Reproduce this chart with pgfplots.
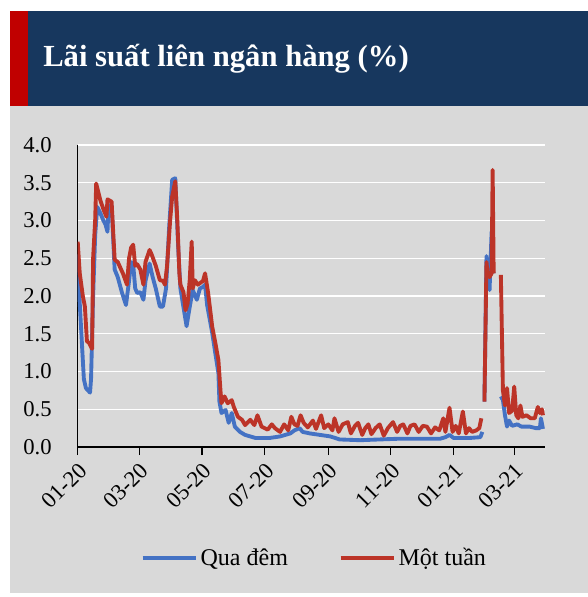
\documentclass[border=0pt]{standalone}
\usepackage{pgfplots}
\pgfplotsset{compat=1.18}
\usepackage{fontspec}
\setmainfont{Liberation Serif}
\definecolor{navy}{RGB}{23,55,94}
\definecolor{barred}{RGB}{192,0,0}
\definecolor{bg}{RGB}{217,217,217}
\definecolor{sblue}{RGB}{68,114,196}
\definecolor{sred}{RGB}{188,52,40}
\begin{document}
\begin{tikzpicture}[x=0.75pt,y=0.75pt]
\fill[white] (0,0) rectangle (588,597);
\fill[bg] (10,4) rectangle (588,491);
\fill[navy] (10,491) rectangle (588,586);
\fill[barred] (10,491) rectangle (28,586);
\node[anchor=base west,text=white,font=\fontsize{23pt}{26pt}\selectfont\bfseries,inner sep=0pt] at (43,530) {Lãi suất liên ngân hàng (\%)};
\begin{axis}[
  at={(58.275pt,112.5pt)}, anchor=origin,
  scale only axis, width=350.5pt, height=226.5pt,
  xmin=0, xmax=455, ymin=0, ymax=4,
  axis lines*=left,
  axis line style={black, line width=0.8pt},
  xtick={0,60,121,182,244,305,366,425},
  xticklabels={01-20,03-20,05-20,07-20,09-20,11-20,01-21,03-21},
  ytick={0,0.5,...,4},
  yticklabel style={/pgf/number format/fixed,/pgf/number format/fixed zerofill,/pgf/number format/precision=1, xshift=-10pt},
  /pgf/number format/assume math mode=true,
  tick align=outside,
  major tick length=6pt,
  xtick style={black, line width=0.8pt},
  ytick style={draw=none},
  xticklabel style={rotate=45, anchor=north east, font=\fontsize{17pt}{19pt}\selectfont},
  ticklabel style={font=\fontsize{17pt}{19pt}\selectfont},
  ymajorgrids, grid style={white, line width=1pt},
  unbounded coords=jump,
  legend style={at={(0.507,-0.367)}, anchor=center, draw=none, fill=none, font=\fontsize{18pt}{20pt}\selectfont, legend columns=2, /tikz/every even column/.append style={column sep=36pt}},
  legend image code/.code={\draw[line width=3pt] (0pt,0pt) -- (40pt,0pt);},
]
\addplot[sblue, line width=2.9pt, line join=round] coordinates {
(0,2.55)(2,1.9)(4,1.4)(6,0.9)(8,0.78)(10,0.75)(12,0.72)(13,0.9)(15,2.0)(17,2.8)(19,3.18)(22,3.1)(25,3.0)(27,2.95)(29,2.85)(30,3.2)(33,3.2)(36,2.35)(39,2.25)(43,2.05)(47,1.88)(50,2.2)(52,2.45)(54,2.42)(56,2.1)(58,2.04)(61,2.05)(64,1.95)(66,2.2)(70,2.43)(73,2.25)(76,2.1)(80,1.86)(83,1.86)(86,2.1)(89,2.9)(92,3.54)(95,3.56)(98,2.6)(100,2.1)(103,1.85)(106,1.6)(109,1.85)(112,2.08)(116,1.95)(119,2.1)(122,2.12)(124,2.15)(126,1.88)(131,1.51)(134,1.24)(137,0.98)(138,0.6)(140,0.45)(144,0.49)(147,0.32)(150,0.45)(153,0.27)(158,0.2)(163,0.16)(173,0.12)(187,0.12)(197,0.14)(207,0.18)(211,0.22)(216,0.25)(219,0.2)(226,0.18)(236,0.16)(246,0.14)(255,0.1)(275,0.09)(294,0.1)(314,0.11)(333,0.11)(353,0.11)(358,0.13)(362,0.16)(366,0.12)(382,0.12)(392,0.13)(394,0.2)
(395,nan)
(396,0.6)(398,2.53)(399,2.3)(401,2.08)(403,2.85)(404,2.35)(405,2.3)
(408,nan)
(412,0.67)(414,0.62)(416,0.42)(418,0.27)(420,0.35)(423,0.28)(428,0.3)(432,0.27)(440,0.27)(446,0.25)(450,0.25)(451,0.38)(453,0.24)
};
\addlegendentry{Qua đêm}
\addplot[sred, line width=2.9pt, line join=round] coordinates {
(0,2.72)(2,2.3)(5,2.0)(7,1.86)(9,1.4)(11,1.38)(14,1.3)(15,2.5)(17,3.0)(18,3.49)(22,3.27)(25,3.15)(28,3.05)(29,3.28)(33,3.25)(36,2.48)(39,2.45)(41,2.39)(44,2.3)(48,2.15)(50,2.5)(52,2.64)(54,2.68)(56,2.4)(58,2.42)(61,2.35)(64,2.15)(66,2.45)(70,2.61)(72,2.55)(76,2.4)(80,2.21)(83,2.2)(85,2.15)(87,2.4)(90,3.0)(92,3.32)(95,3.52)(97,3.0)(99,2.3)(100,2.15)(103,2.05)(105,1.81)(107,1.9)(109,2.2)(111,2.72)(112,2.1)(114,2.21)(117,2.15)(122,2.2)(124,2.3)(127,2.04)(131,1.59)(134,1.38)(137,1.15)(139,0.75)(140,0.58)(143,0.67)(146,0.58)(150,0.62)(152,0.53)(156,0.4)(160,0.36)(163,0.29)(168,0.36)(172,0.29)(175,0.42)(179,0.27)(185,0.23)(189,0.3)(192,0.25)(197,0.2)(201,0.3)(205,0.22)(208,0.4)(211,0.3)(214,0.28)(217,0.42)(220,0.32)(224,0.26)(229,0.35)(232,0.24)(237,0.42)(240,0.25)(244,0.3)(248,0.22)(250,0.38)(254,0.2)(258,0.3)(263,0.33)(266,0.18)(270,0.28)(273,0.32)(277,0.16)(280,0.25)(283,0.3)(286,0.17)(290,0.25)(294,0.3)(298,0.15)(302,0.25)(307,0.33)(311,0.2)(314,0.28)(317,0.3)(321,0.18)(324,0.28)(328,0.3)(332,0.2)(336,0.28)(340,0.27)(344,0.18)(348,0.26)(352,0.22)(356,0.38)(358,0.2)(362,0.52)(365,0.2)(368,0.28)(371,0.18)(375,0.47)(378,0.18)(381,0.25)(384,0.2)(388,0.22)(391,0.25)(393,0.38)
(395,nan)
(396,0.6)(398,2.45)(399,2.3)(401,2.25)(403,2.3)(404,3.67)(405,2.3)
(408,nan)
(412,2.28)(414,0.75)(416,0.55)(418,0.78)(420,0.45)(423,0.48)(425,0.8)(427,0.42)(429,0.38)(431,0.55)(433,0.4)(437,0.42)(441,0.38)(445,0.38)(448,0.53)(450,0.45)(452,0.5)(453,0.42)
};
\addlegendentry{Một tuần}
\end{axis}
\end{tikzpicture}
\end{document}
